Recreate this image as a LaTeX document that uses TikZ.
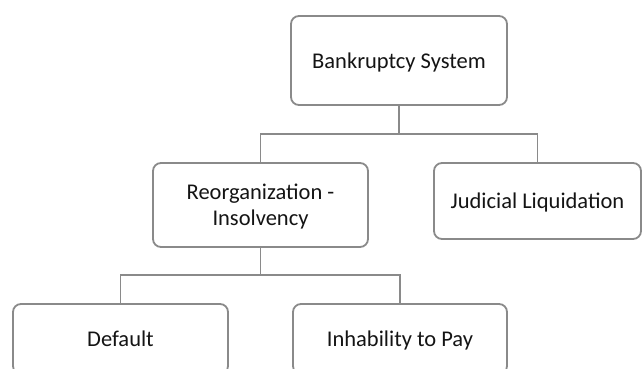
\documentclass[tikz,border=0pt]{standalone}
\usepackage{fontspec}
\setmainfont{Carlito}
\begin{document}
\begin{tikzpicture}[x=1pt,y=-1pt,
  orgbox/.style={draw=linegray, line width=1.8pt, rounded corners=8pt, fill=white,
    align=center, font=\fontsize{22.5}{26}\selectfont, text=black!92, inner sep=0pt,
    text depth=0pt},
  link/.style={draw=linegray, line width=1.8pt}]
\definecolor{linegray}{HTML}{8A8A8A}
\useasboundingbox (0,0) rectangle (642,368);
\clip (0,0) rectangle (642,368);
\node[orgbox, minimum width=216pt, minimum height=89pt] (top) at (399,60.5) {Bankruptcy System};
\node[orgbox, minimum width=215pt, minimum height=84pt] (reorg) at (260.5,205) {Reorganization -\\Insolvency};
\node[orgbox, minimum width=207pt, minimum height=76pt] (jud) at (537.5,201) {Judicial Liquidation};
\node[orgbox, minimum width=215pt, minimum height=70pt] (def) at (120.5,339) {Default};
\node[orgbox, minimum width=214pt, minimum height=70pt] (inh) at (400,339) {Inhability to Pay};
\coordinate (j1) at (399,134);
\coordinate (j2) at (260.5,275);
\draw[link] (top.south) -- (j1);
\draw[link] (reorg.north) |- (j1) -| (jud.north);
\draw[link] (reorg.south) -- (j2);
\draw[link] (def.north) |- (j2) -| (inh.north);
\end{tikzpicture}
\end{document}
